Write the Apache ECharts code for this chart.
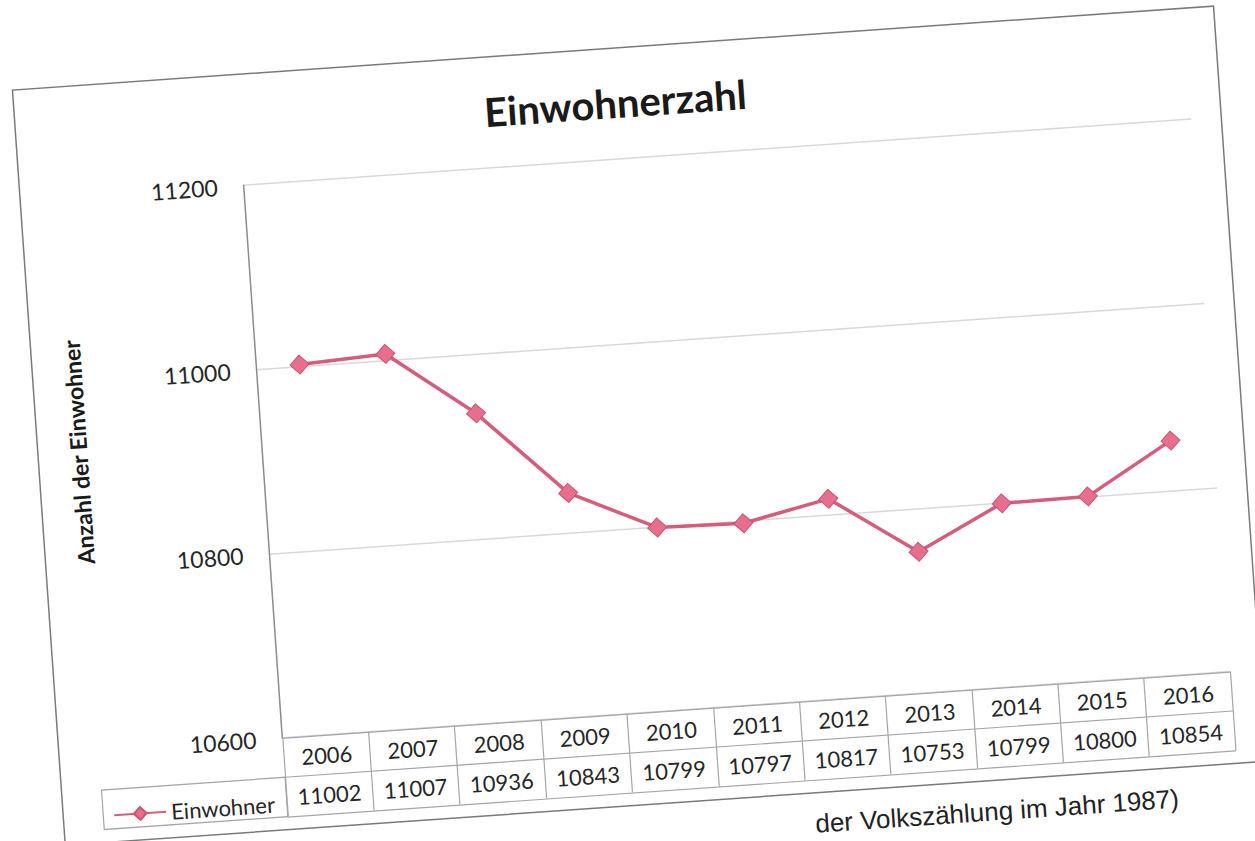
<!DOCTYPE html>
<html>
<head>
<meta charset="utf-8">
<title>Einwohnerzahl</title>
<script src="https://cdn.jsdelivr.net/npm/echarts@6/dist/echarts.min.js"></script>
<style>
  html, body { margin: 0; padding: 0; background: #fff; width: 1255px; height: 841px; overflow: hidden; }
  /* scanned page is slightly tilted, so the whole chart is turned a little */
  #charts { position: absolute; left: 0; top: 0; width: 1255px; height: 900px;
            transform-origin: 627.5px 420.5px; transform: rotate(-4deg); }
</style>
</head>
<body>
<div id="charts"></div>
<script>
/* chart data */
const years = ["2006", "2007", "2008", "2009", "2010", "2011", "2012", "2013", "2014", "2015", "2016"];
const population = [11002, 11007, 10936, 10843, 10799, 10797, 10817, 10753, 10799, 10800, 10854];
const yMin = 10600;
const yMax = 11200;
const yStep = 200;

/* layout */
const plotLeft = 261;
const plotTop = 159;
const plotWidth = 950;
const plotHeight = 554;
const rowH = 39.5; //height of one data table row
const tableLine = { color: "#a6a6a6", width: 1.2 };
const font = "Lato";

/* charts render */
function chartRender() {
  let myChart = echarts.init(document.getElementById("charts"), null, { renderer: "svg" });
  let option = {
    backgroundColor: "#fff",
    animation: false,
    title: {
      text: "Einwohnerzahl",
      left: 501,
      top: 78,
      textStyle: { fontFamily: font, fontSize: 40, fontWeight: "bold", color: "#1a1a1a" },
    },
    legend: {
      left: 82,
      top: plotTop + plotHeight + rowH + 10,
      itemWidth: 52,
      itemHeight: 16,
      textStyle: { fontFamily: font, fontSize: 22, color: "#262626" },
      data: ["Einwohner"],
    },
    grid: { left: plotLeft, top: plotTop, width: plotWidth, height: plotHeight },
    xAxis: [
      {
        //first table row: years
        type: "category",
        data: years,
        position: "bottom",
        boundaryGap: true,
        axisLine: { show: true, lineStyle: tableLine },
        axisTick: { show: true, interval: 0, length: rowH * 2, lineStyle: tableLine },
        axisLabel: { interval: 0, margin: 9, fontFamily: font, fontSize: 22, color: "#262626" },
      },
      {
        //second table row: values
        type: "category",
        data: years,
        position: "bottom",
        offset: rowH,
        axisLine: { show: true, lineStyle: tableLine },
        axisTick: { show: false },
        axisLabel: {
          interval: 0,
          margin: 9,
          fontFamily: font,
          fontSize: 22,
          color: "#262626",
          formatter: function (v, i) {
            return String(population[i]);
          },
        },
      },
      {
        //bottom line of the table
        type: "category",
        data: years,
        position: "bottom",
        offset: rowH * 2,
        axisLine: { show: true, lineStyle: tableLine },
        axisTick: { show: false },
        axisLabel: { show: false },
      },
    ],
    yAxis: {
      type: "value",
      min: yMin,
      max: yMax,
      interval: yStep,
      name: "Anzahl der Einwohner",
      nameLocation: "middle",
      nameGap: 172,
      nameTextStyle: {
        fontFamily: font,
        fontSize: 23,
        fontWeight: "bold",
        color: "#1a1a1a",
        padding: [0, 0, 0, 44], //moves the name a little up, as in the original
      },
      axisLine: { show: true, lineStyle: { color: "#8c8c8c", width: 1.5 } },
      axisTick: { show: false },
      axisLabel: {
        margin: 26,
        fontFamily: font,
        fontSize: 23,
        color: "#262626",
        formatter: function (v) {
          return String(v); //no thousands separator
        },
      },
      splitLine: { show: true, lineStyle: { color: "#d9d9d9", width: 1.5 } },
    },
    series: [
      {
        name: "Einwohner",
        type: "line",
        data: population,
        symbol: "diamond",
        symbolSize: 19,
        lineStyle: { color: "#d65c7c", width: 3.5 },
        itemStyle: { color: "#e76f8d", borderColor: "#c95373", borderWidth: 1 },
      },
    ],
    graphic: [
      {
        //outer chart frame
        type: "rect",
        shape: { x: 37, y: 48, width: 1204, height: 757 },
        style: { fill: "none", stroke: "#7a7a7a", lineWidth: 1.5 },
        silent: true,
      },
      {
        //legend cell of the data table
        type: "rect",
        shape: { x: 77, y: plotTop + plotHeight + rowH, width: plotLeft - 77, height: rowH },
        style: { fill: "none", stroke: tableLine.color, lineWidth: tableLine.width },
        silent: true,
      },
      {
        //caption under the chart
        type: "text",
        x: 1151,
        y: 836,
        style: {
          text: "der Volkszählung im Jahr 1987)",
          font: '26px "Liberation Sans"',
          fill: "#222",
          textAlign: "right",
          textVerticalAlign: "middle",
        },
        silent: true,
      },
    ],
  };
  myChart.setOption(option);
}

chartRender();
</script>
</body>
</html>
